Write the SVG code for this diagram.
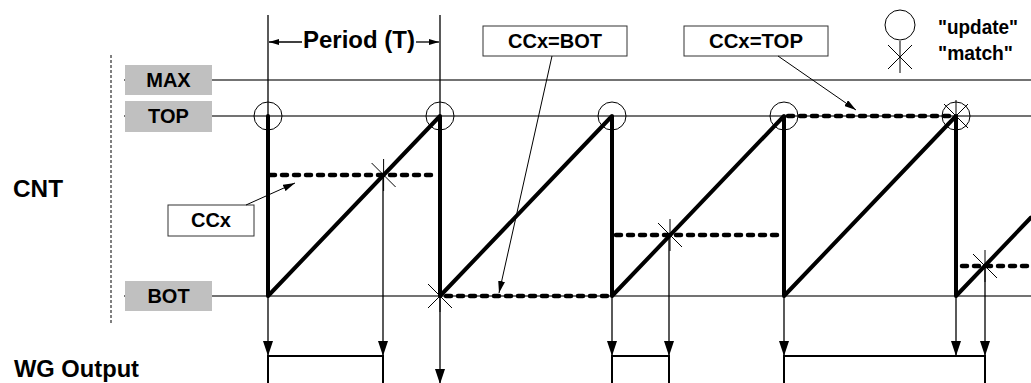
<svg xmlns="http://www.w3.org/2000/svg" width="1031" height="383" viewBox="0 0 1031 383">
<style>
text{font-family:"Liberation Sans",Arial,sans-serif;font-weight:bold;fill:#000}
.big{font-size:23px}
.lbl{font-size:20px}
.gray{fill:#c0c0c0;stroke:none}
.box{fill:#fff;stroke:#333;stroke-width:1}
.lvl{stroke:#444;stroke-width:1.3;fill:none}
.thin{stroke:#000;stroke-width:1.3;fill:none}
.ramp{stroke:#000;stroke-width:4;fill:none;stroke-linecap:round;stroke-linejoin:round}
.cc{stroke:#000;stroke-width:4.5;fill:none;stroke-dasharray:5 7;stroke-linecap:round}
.wg{stroke:#000;stroke-width:2;fill:none}
.upd{fill:none;stroke:#000;stroke-width:1}
.star{stroke:#000;stroke-width:1;fill:none}
</style>
<defs>
<marker id="ah" markerUnits="userSpaceOnUse" markerWidth="15" markerHeight="10" refX="15" refY="5" orient="auto"><path d="M0,0 L15,5 L0,10 z" fill="#000"/></marker>
<marker id="ap" markerUnits="userSpaceOnUse" markerWidth="10" markerHeight="6" refX="10" refY="3" orient="auto"><path d="M0,0 L10,3 L0,6 z" fill="#000"/></marker>
<marker id="al" markerUnits="userSpaceOnUse" markerWidth="12" markerHeight="7" refX="12" refY="3.5" orient="auto"><path d="M0,0 L12,3.5 L0,7 z" fill="#000"/></marker>
<symbol id="st" overflow="visible"><path class="star" d="M-12,-12 L12,12 M12,-12 L-12,12 M0,-16 L0,16"/></symbol>
</defs>

<g id="axis">
<line x1="111" y1="55" x2="111" y2="325" stroke="#000" stroke-width="1" stroke-dasharray="3 2"/>
<text class="big" x="13" y="197" textLength="50" lengthAdjust="spacingAndGlyphs">CNT</text>
<text class="big" x="14" y="377" textLength="125" lengthAdjust="spacingAndGlyphs">WG Output</text>
</g>

<g id="levels">
<line class="lvl" x1="124" y1="80" x2="1031" y2="80" stroke="#000"/>
<line class="lvl" x1="124" y1="116" x2="1031" y2="116"/>
<line class="lvl" x1="124" y1="296" x2="1031" y2="296"/>
</g>

<g id="node-max"><rect class="gray" x="125" y="65" width="87" height="30"/><text class="lbl" x="168.5" y="87" text-anchor="middle">MAX</text></g>
<g id="node-top"><rect class="gray" x="125" y="101" width="87" height="31"/><text class="lbl" x="168.5" y="123" text-anchor="middle">TOP</text></g>
<g id="node-bot"><rect class="gray" x="125" y="281" width="87" height="30"/><text class="lbl" x="168.5" y="303" text-anchor="middle">BOT</text></g>

<g id="node-period">
<line class="thin" x1="268" y1="15" x2="268" y2="116"/>
<line class="thin" x1="440" y1="15" x2="440" y2="116"/>
<line class="thin" x1="302" y1="42" x2="269" y2="42" marker-end="url(#ap)"/>
<line class="thin" x1="416" y1="42" x2="439" y2="42" marker-end="url(#ap)"/>
<text class="big" x="303" y="48" textLength="112" lengthAdjust="spacingAndGlyphs">Period (T)</text>
</g>

<g id="node-ccx-bot"><rect class="box" x="483" y="26" width="144" height="30"/><text class="lbl" x="555" y="48" text-anchor="middle" textLength="94" lengthAdjust="spacingAndGlyphs">CCx=BOT</text></g>
<g id="node-ccx-top"><rect class="box" x="684" y="26" width="144" height="30"/><text class="lbl" x="756" y="48" text-anchor="middle" textLength="94" lengthAdjust="spacingAndGlyphs">CCx=TOP</text></g>
<g id="node-ccx"><rect class="box" x="168" y="205" width="86" height="31"/><text class="lbl" x="211" y="227" text-anchor="middle">CCx</text></g>

<g id="legend">
<circle class="upd" cx="900" cy="25" r="15"/>
<use href="#st" x="900" y="57"/>
<text class="lbl" x="938" y="34" textLength="80" lengthAdjust="spacingAndGlyphs">"update"</text>
<text class="lbl" x="938" y="60" textLength="75" lengthAdjust="spacingAndGlyphs">"match"</text>
</g>

<g id="counter">
<path class="ramp" d="M268,116 V296 L440,116 V296 L612,116 V296 L784,116 V296 L956,116 V296 L1031,217.5"/>
<line class="cc" x1="270" y1="175" x2="438" y2="175"/>
<line class="cc" x1="446" y1="296" x2="608" y2="296"/>
<line class="cc" x1="616" y1="235" x2="782" y2="235"/>
<line class="cc" x1="788" y1="116" x2="952" y2="116"/>
<line class="cc" x1="962" y1="266" x2="1031" y2="266"/>
<circle class="upd" cx="268" cy="116" r="14"/>
<circle class="upd" cx="440" cy="116" r="14"/>
<circle class="upd" cx="612" cy="116" r="14"/>
<circle class="upd" cx="784" cy="116" r="14"/>
<circle class="upd" cx="956" cy="116" r="14"/>
<use href="#st" x="383.6" y="175"/>
<use href="#st" x="440" y="296"/>
<use href="#st" x="670" y="235"/>
<use href="#st" x="956" y="116"/>
<use href="#st" x="985" y="266"/>
</g>

<g id="wg-output">
<path class="wg" d="M268,384 V356 H383 V384"/>
<path class="wg" d="M612,384 V356 H669 V384"/>
<path class="wg" d="M784,384 V356 H985 V384"/>
</g>

<g id="connectors">
<line class="thin" x1="268" y1="296" x2="268" y2="356" marker-end="url(#ah)"/>
<line class="thin" x1="383" y1="175" x2="383" y2="356" marker-end="url(#ah)"/>
<line class="thin" x1="440" y1="296" x2="440" y2="384" marker-end="url(#ah)"/>
<line class="thin" x1="612" y1="296" x2="612" y2="356" marker-end="url(#ah)"/>
<line class="thin" x1="669" y1="235" x2="669" y2="356" marker-end="url(#ah)"/>
<line class="thin" x1="784" y1="296" x2="784" y2="356" marker-end="url(#ah)"/>
<line class="thin" x1="956" y1="296" x2="956" y2="356" marker-end="url(#ah)"/>
<line class="thin" x1="985" y1="266" x2="985" y2="356" marker-end="url(#ah)"/>
<line stroke="#000" stroke-width="1" x1="246" y1="205" x2="295" y2="183" marker-end="url(#al)"/>
<line stroke="#000" stroke-width="1" x1="552" y1="56" x2="499" y2="293" marker-end="url(#al)"/>
<line stroke="#000" stroke-width="1" x1="778" y1="56" x2="856" y2="110" marker-end="url(#al)"/>
</g>
</svg>
